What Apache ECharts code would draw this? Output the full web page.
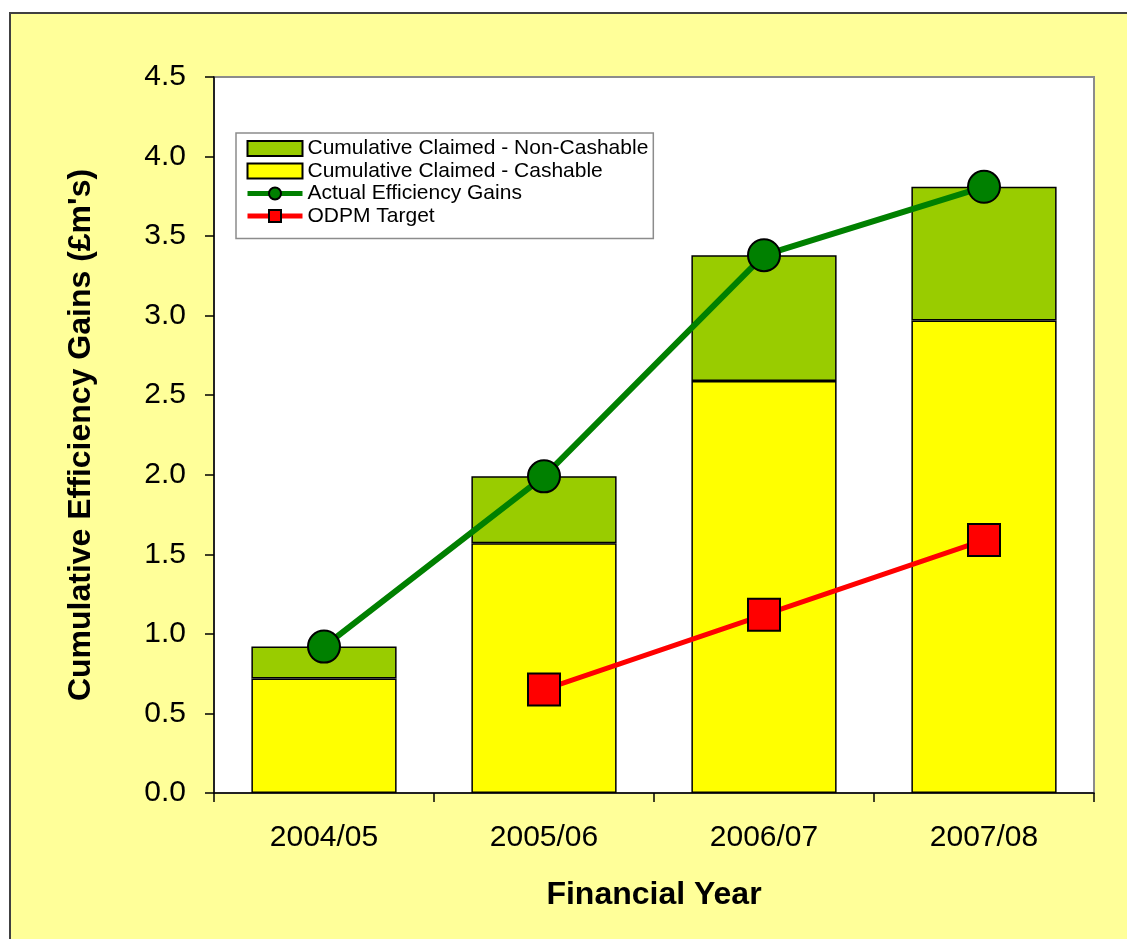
<!DOCTYPE html>
<html>
<head>
<meta charset="utf-8">
<script src="https://cdn.jsdelivr.net/npm/echarts@6/dist/echarts.min.js"></script>
<style>
  html, body { margin: 0; padding: 0; background: #ffffff; }
  #chart {
    position: absolute; left: 9px; top: 12px;
    width: 1118px; height: 927px; box-sizing: border-box;
    border-top: 2px solid #404040; border-left: 2px solid #404040;
    background: #FFFF99;
  }
</style>
</head>
<body>
<div id="chart"></div>
<script>
// Financial years on the category axis
const years = ['2004/05', '2005/06', '2006/07', '2007/08'];
// Claimed gains, split into cashable and non-cashable parts (£m)
const cashable = [0.72, 1.57, 2.59, 2.97];
const nonCashable = [0.20, 0.42, 0.79, 0.84];
// Actual cumulative efficiency gains (£m)
const actualGains = [0.92, 1.99, 3.38, 3.81];
// ODPM target (no target for the first year)
const odpmTarget = [null, 0.65, 1.12, 1.59];

const FONT = 'Liberation Sans, Arial, sans-serif';

const chart = echarts.init(document.getElementById('chart'), null, { renderer: 'canvas' });

chart.setOption({
  backgroundColor: '#FFFF99',
  animation: false,
  textStyle: { fontFamily: FONT },
  grid: {
    left: 203, top: 63, right: 33, bottom: 146,
    show: true, backgroundColor: '#ffffff',
    borderColor: '#8c8c8c', borderWidth: 2
  },
  legend: {
    orient: 'vertical',
    left: 225, top: 119,
    backgroundColor: '#ffffff',
    borderColor: '#8c8c8c', borderWidth: 1.5, borderRadius: 0,
    padding: [5, 5, 12, 9],
    itemWidth: 55, itemHeight: 15, itemGap: 1.5,
    lineStyle: { width: 5 },
    textStyle: { fontFamily: FONT, fontSize: 21, color: '#000', lineHeight: 20 },
    data: [
      { name: 'Cumulative Claimed - Non-Cashable', icon: 'rect' },
      { name: 'Cumulative Claimed - Cashable', icon: 'rect' },
      { name: 'Actual Efficiency Gains' },
      { name: 'ODPM Target' }
    ]
  },
  xAxis: {
    type: 'category',
    data: years,
    boundaryGap: true,
    name: 'Financial Year',
    nameLocation: 'middle',
    nameGap: 86,
    nameTextStyle: { fontFamily: FONT, fontSize: 32, fontWeight: 'bold', color: '#000' },
    axisLine: { lineStyle: { color: '#000', width: 1.5 } },
    axisTick: { show: true, length: 9, lineStyle: { color: '#000', width: 1.5 } },
    axisLabel: { fontFamily: FONT, fontSize: 30, color: '#000', margin: 30 },
    splitLine: { show: false }
  },
  yAxis: {
    type: 'value',
    min: 0, max: 4.5, interval: 0.5,
    name: "Cumulative Efficiency Gains (£m's)",
    nameLocation: 'middle',
    nameGap: 117,
    nameRotate: 90,
    nameTextStyle: { fontFamily: FONT, fontSize: 32, fontWeight: 'bold', color: '#000' },
    axisLine: { show: true, lineStyle: { color: '#000', width: 1.5 } },
    axisTick: { show: true, length: 9, lineStyle: { color: '#000', width: 1.5 } },
    axisLabel: {
      fontFamily: FONT, fontSize: 30, color: '#000', margin: 28,
      formatter: v => v.toFixed(1)
    },
    splitLine: { show: false }
  },
  series: [
    {
      name: 'Cumulative Claimed - Cashable',
      type: 'bar', stack: 'claimed',
      barWidth: '66%',
      data: cashable,
      itemStyle: { color: '#FFFF00', borderColor: '#000', borderWidth: 1.5 },
      z: 2
    },
    {
      name: 'Cumulative Claimed - Non-Cashable',
      type: 'bar', stack: 'claimed',
      barWidth: '66%',
      data: nonCashable,
      itemStyle: { color: '#99CC00', borderColor: '#000', borderWidth: 1.5 },
      z: 2
    },
    {
      name: 'Actual Efficiency Gains',
      type: 'line',
      data: actualGains,
      symbol: 'circle', symbolSize: 32,
      lineStyle: { color: '#008000', width: 6 },
      itemStyle: { color: '#008000', borderColor: '#000', borderWidth: 2 },
      z: 5
    },
    {
      name: 'ODPM Target',
      type: 'line',
      data: odpmTarget,
      symbol: 'rect', symbolSize: 32,
      lineStyle: { color: '#FF0000', width: 5 },
      itemStyle: { color: '#FF0000', borderColor: '#000', borderWidth: 2 },
      z: 5
    }
  ]
});
</script>
</body>
</html>
